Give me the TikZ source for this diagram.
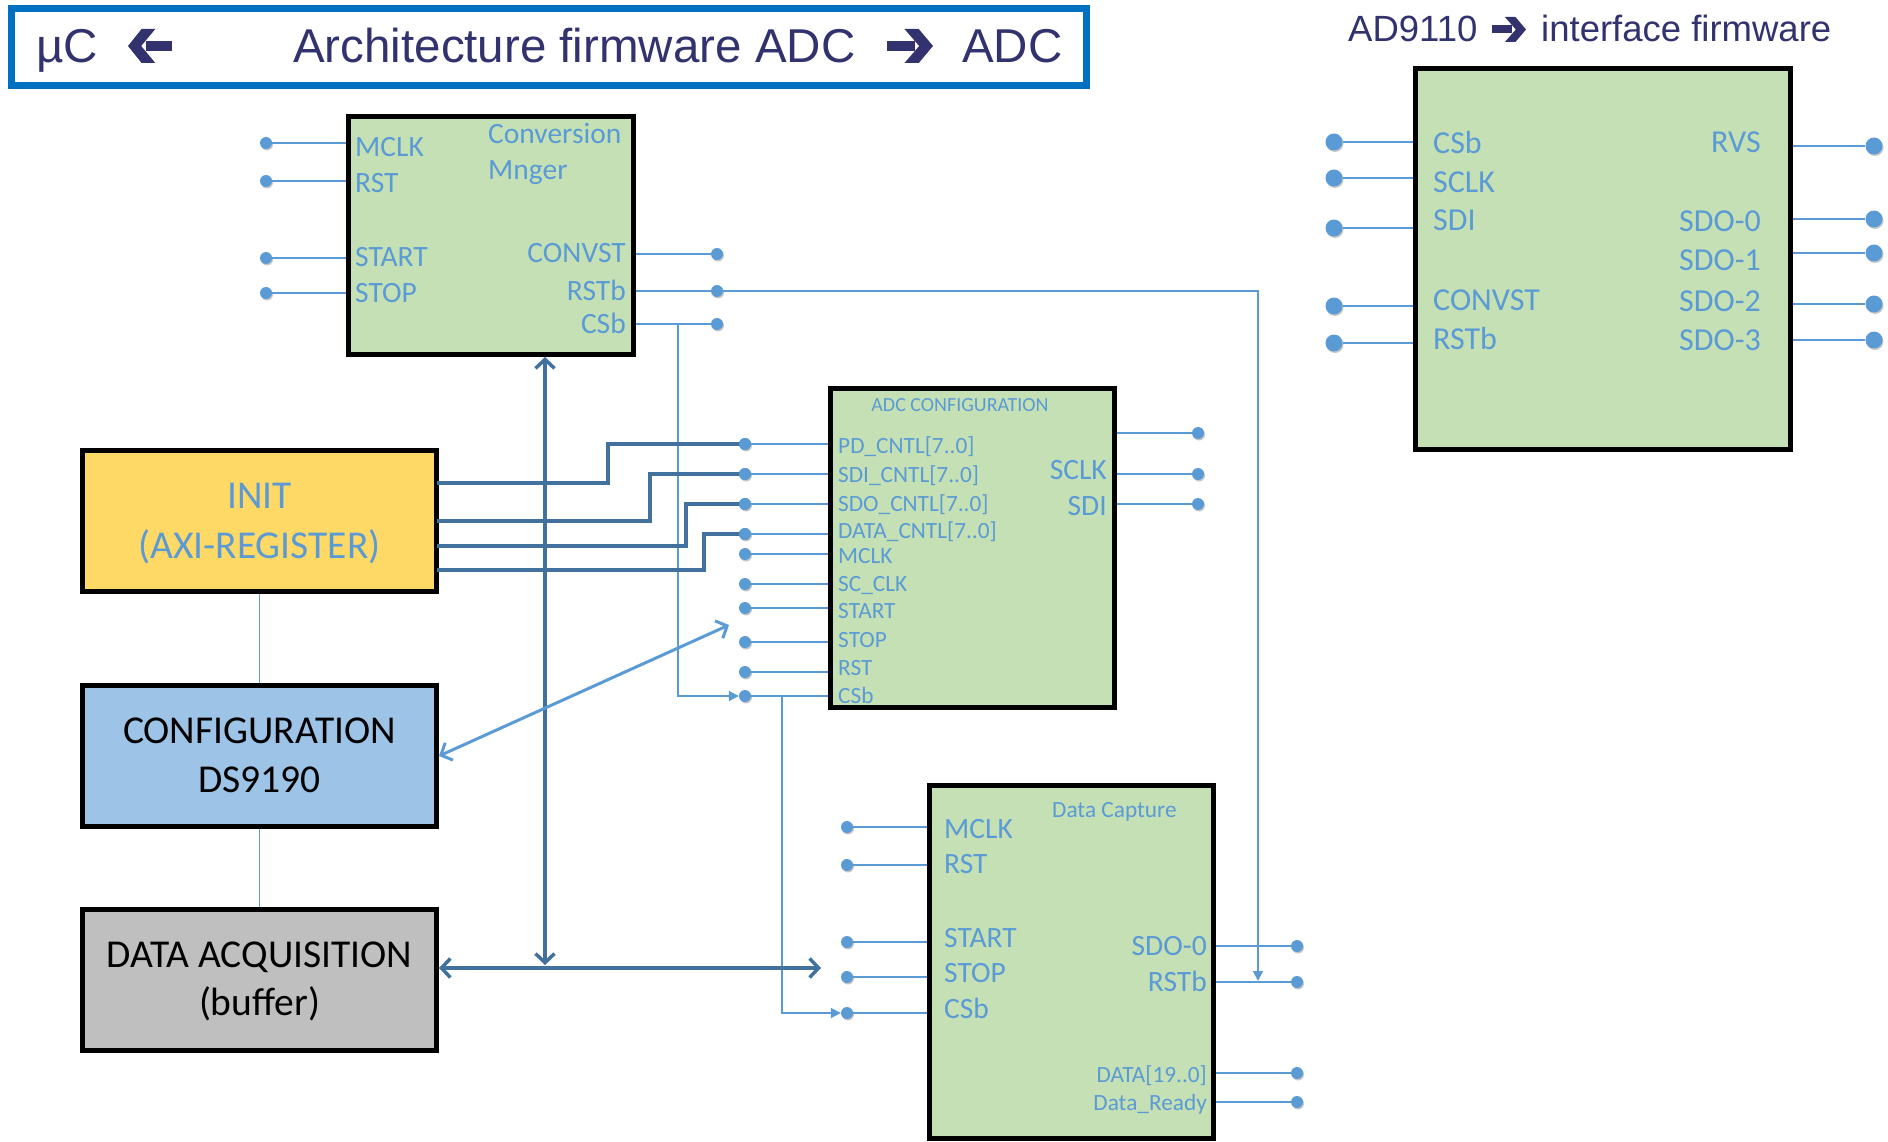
\documentclass[tikz,border=0pt]{standalone}
\usepackage{fontspec}
\setmainfont{Carlito}
\newfontfamily\headfont{Liberation Sans}
\usetikzlibrary{arrows.meta,shadows}

\definecolor{pinblue}{HTML}{5B9BD5}
\definecolor{steel}{HTML}{41719C}
\definecolor{modgreen}{HTML}{C5E0B4}
\definecolor{initgold}{HTML}{FFD966}
\definecolor{cfgblue}{HTML}{9DC3E6}
\definecolor{acqgray}{HTML}{BFBFBF}
\definecolor{frameblue}{HTML}{0070C0}
\definecolor{navy}{HTML}{32326E}

\newcommand\fpin{\fontsize{29.5}{35}\selectfont}
\newcommand\fsmall{\fontsize{23.3}{28}\selectfont}
\newcommand\fcfg{\fontsize{20}{24}\selectfont}
\newcommand\fad{\fontsize{32}{38}\selectfont}
\newcommand\fblock{\fontsize{39.5}{48}\selectfont}
\newcommand\fhead{\headfont\fontsize{47.5}{56}\selectfont}
\newcommand\fsub{\headfont\fontsize{36.5}{44}\selectfont}

% pin dot + stub to the left / right edge of a block
\newcommand\pinW[4]{\node[#4] (#1) at (#3) {};\draw[pinline] (#1) -- (#1 -| #2.west);}
\newcommand\pinE[4]{\node[#4] (#1) at (#3) {};\draw[pinline] (#1) -- (#1 -| #2.east);}

\begin{document}
\begin{tikzpicture}[x=1pt,y=-1pt,
  module/.style={draw=black, line width=5pt, fill=#1, rectangle, inner sep=0pt},
  module/.default=modgreen,
  pinline/.style={draw=pinblue, line width=1.8pt},
  pindot/.style={circle, fill=pinblue, inner sep=0pt, minimum size=12pt,
    drop shadow={shadow xshift=1pt, shadow yshift=-1.5pt, opacity=0.22, fill=black}},
  bigdot/.style={pindot, minimum size=17pt},
  lab/.style={text=pinblue, inner sep=0pt},
  blocktext/.style={inner sep=0pt, font=\fblock},
  bus/.style={draw=steel, line width=3.5pt},
  busarrows/.style={bus, {Straight Barb[length=9pt,width=19pt,line width=3.5pt]}-{Straight Barb[length=9pt,width=19pt,line width=3.5pt]}},
  feed/.style={pinline, -{Triangle[length=10pt,width=10pt]}},
  fatarrow/.pic={
    \fill[navy] (0,-0.16) rectangle (0.6,0.16);
    \fill[navy] (0.38,-0.5) -- (0.69,-0.5) -- (1,0) -- (0.69,0.5) -- (0.38,0.5) -- (0.70,0) -- cycle;
  }]
\useasboundingbox (0,0) rectangle (1888,1142);

% ---------- headings ----------
\node[draw=frameblue, line width=7pt, rectangle, inner sep=0pt,
      minimum width=1075pt, minimum height=77pt] (frame) at (549,47) {};
\node[text=navy, font=\fhead, anchor=base west, inner sep=0pt] (hmu) at (36,63) {µC};
\pic[xscale=-44, yscale=34] at (172,46) {fatarrow};
\node[text=navy, font=\fhead, anchor=base west, inner sep=0pt] (harch) at (293,63) {Architecture firmware ADC};
\pic[xscale=46, yscale=34] at (887,46) {fatarrow};
\node[text=navy, font=\fhead, anchor=base west, inner sep=0pt] (hadc) at (962,63) {ADC};

\node[text=navy, font=\fsub, anchor=base west, inner sep=0pt] (hdev) at (1348,42) {AD9110};
\pic[xscale=34, yscale=25] at (1492,29.5) {fatarrow};
\node[text=navy, font=\fsub, anchor=base west, inner sep=0pt] (hif) at (1541,42) {interface firmware};

% ---------- blocks ----------
\node[module, minimum width=285pt, minimum height=238pt] (cm)  at (491,235.5) {};
\node[module, minimum width=284pt, minimum height=319pt] (adc) at (972.5,548) {};
\node[module, minimum width=284pt, minimum height=353pt] (cap) at (1071.5,962) {};
\node[module, minimum width=375pt, minimum height=381pt] (ad)  at (1603,259) {};
\node[module=initgold, minimum width=354pt, minimum height=141pt] (init) at (259.5,521) {};
\node[module=cfgblue,  minimum width=354pt, minimum height=141pt] (cfg)  at (259.5,756) {};
\node[module=acqgray,  minimum width=354pt, minimum height=141pt] (acq)  at (259.5,980) {};

\node[blocktext, text=pinblue, anchor=base] (init1) at (259.5,508) {INIT};
\node[blocktext, text=pinblue, anchor=base] (init2) at (259.5,558) {(AXI-REGISTER)};
\node[blocktext, anchor=base] (cfg1) at (259.5,743) {CONFIGURATION};
\node[blocktext, anchor=base] (cfg2) at (259.5,792) {DS9190};
\node[blocktext, anchor=base] (acq1) at (259.5,967) {DATA ACQUISITION};
\node[blocktext, anchor=base] (acq2) at (259.5,1015) {(buffer)};

% links between the left-hand blocks
\draw[pinline, line width=1.4pt] (init) -- (cfg);
\draw[pinline, line width=1.4pt] (cfg) -- (acq);

% ---------- anchor points of the buses ----------
\coordinate (i1) at (436.5,483);
\coordinate (i2) at (436.5,521);
\coordinate (i3) at (436.5,546);
\coordinate (i4) at (436.5,570);
\coordinate (busx) at (545,0);
\coordinate (busjoin) at (545,965);
\coordinate (busend) at (821,968);

% ---------- Conversion Mnger ----------
\pinW{cm-l1}{cm}{266,143}{pindot}
\pinW{cm-l2}{cm}{266,181}{pindot}
\pinW{cm-l3}{cm}{266,258}{pindot}
\pinW{cm-l4}{cm}{266,293}{pindot}
\pinE{cm-r1}{cm}{717,254}{pindot}
\pinE{cm-r2}{cm}{717,291}{pindot}
\pinE{cm-r3}{cm}{717,324}{pindot}
\node[lab, font=\fpin, anchor=base west] (cm-t1) at (488,144) {Conversion};
\node[lab, font=\fpin, anchor=base west] (cm-t2) at (488,180) {Mnger};
\node[lab, font=\fpin, anchor=base west] (cm-a) at (355,157) {MCLK};
\node[lab, font=\fpin, anchor=base west] (cm-b) at (355,193) {RST};
\node[lab, font=\fpin, anchor=base west] (cm-c) at (355,266) {START};
\node[lab, font=\fpin, anchor=base west] (cm-d) at (355,302) {STOP};
\node[lab, font=\fpin, anchor=base east] (cm-e) at (626,262) {CONVST};
\node[lab, font=\fpin, anchor=base east] (cm-f) at (626,300) {RSTb};
\node[lab, font=\fpin, anchor=base east] (cm-g) at (626,333) {CSb};

% ---------- ADC CONFIGURATION ----------
\node[lab, font=\fcfg, anchor=base] (adc-t) at (960,411) {ADC CONFIGURATION};
\pinW{adc-l1}{adc}{745,444}{pindot}
\pinW{adc-l2}{adc}{745,474}{pindot}
\pinW{adc-l3}{adc}{745,504}{pindot}
\pinW{adc-l4}{adc}{745,534}{pindot}
\pinW{adc-l5}{adc}{745,554}{pindot}
\pinW{adc-l6}{adc}{745,584}{pindot}
\pinW{adc-l7}{adc}{745,608}{pindot}
\pinW{adc-l8}{adc}{745,642}{pindot}
\pinW{adc-l9}{adc}{745,672}{pindot}
\pinW{adc-l10}{adc}{745,696}{pindot}
\pinE{adc-r1}{adc}{1198,433}{pindot}
\pinE{adc-r2}{adc}{1198,474}{pindot}
\pinE{adc-r3}{adc}{1198,504}{pindot}
\node[lab, font=\fsmall, anchor=base west] (adc-a) at (838,453) {PD\_CNTL[7..0]};
\node[lab, font=\fsmall, anchor=base west] (adc-b) at (838,482) {SDI\_CNTL[7..0]};
\node[lab, font=\fsmall, anchor=base west] (adc-c) at (838,511) {SDO\_CNTL[7..0]};
\node[lab, font=\fsmall, anchor=base west] (adc-d) at (838,538) {DATA\_CNTL[7..0]};
\node[lab, font=\fsmall, anchor=base west] (adc-e) at (838,563) {MCLK};
\node[lab, font=\fsmall, anchor=base west] (adc-f) at (838,591) {SC\_CLK};
\node[lab, font=\fsmall, anchor=base west] (adc-g) at (838,618) {START};
\node[lab, font=\fsmall, anchor=base west] (adc-h) at (838,647) {STOP};
\node[lab, font=\fsmall, anchor=base west] (adc-i) at (838,675) {RST};
\node[lab, font=\fsmall, anchor=base west] (adc-j) at (838,703) {CSb};
\node[lab, font=\fpin, anchor=base east] (adc-k) at (1107,479) {SCLK};
\node[lab, font=\fpin, anchor=base east] (adc-m) at (1107,515) {SDI};

% ---------- Data Capture ----------
\node[lab, font=\fsmall, anchor=base west] (cap-t) at (1052,817) {Data Capture};
\pinW{cap-l1}{cap}{847,827}{pindot}
\pinW{cap-l2}{cap}{847,865}{pindot}
\pinW{cap-l3}{cap}{847,942}{pindot}
\pinW{cap-l4}{cap}{847,977}{pindot}
\pinW{cap-l5}{cap}{847,1013}{pindot}
\pinE{cap-r1}{cap}{1297,946}{pindot}
\pinE{cap-r2}{cap}{1297,982}{pindot}
\pinE{cap-r3}{cap}{1297,1073}{pindot}
\pinE{cap-r4}{cap}{1297,1102}{pindot}
\node[lab, font=\fpin, anchor=base west] (cap-a) at (944,838) {MCLK};
\node[lab, font=\fpin, anchor=base west] (cap-b) at (944,873) {RST};
\node[lab, font=\fpin, anchor=base west] (cap-c) at (944,947) {START};
\node[lab, font=\fpin, anchor=base west] (cap-d) at (944,982) {STOP};
\node[lab, font=\fpin, anchor=base west] (cap-e) at (944,1018) {CSb};
\node[lab, font=\fpin, anchor=base east] (cap-f) at (1207,955) {SDO-0};
\node[lab, font=\fpin, anchor=base east] (cap-g) at (1207,991) {RSTb};
\node[lab, font=\fsmall, anchor=base east] (cap-h) at (1207,1082) {DATA[19..0]};
\node[lab, font=\fsmall, anchor=base east] (cap-i) at (1207,1110) {Data\_Ready};

% ---------- AD9110 ----------
\pinW{ad-l1}{ad}{1334,142}{bigdot}
\pinW{ad-l2}{ad}{1334,178}{bigdot}
\pinW{ad-l3}{ad}{1334,228}{bigdot}
\pinW{ad-l4}{ad}{1334,306}{bigdot}
\pinW{ad-l5}{ad}{1334,343}{bigdot}
\pinE{ad-r1}{ad}{1874,146}{bigdot}
\pinE{ad-r2}{ad}{1874,219}{bigdot}
\pinE{ad-r3}{ad}{1874,253}{bigdot}
\pinE{ad-r4}{ad}{1874,304}{bigdot}
\pinE{ad-r5}{ad}{1874,340}{bigdot}
\node[lab, font=\fad, anchor=base west] (ad-a) at (1433,154) {CSb};
\node[lab, font=\fad, anchor=base west] (ad-b) at (1433,193) {SCLK};
\node[lab, font=\fad, anchor=base west] (ad-c) at (1433,231) {SDI};
\node[lab, font=\fad, anchor=base west] (ad-d) at (1433,310) {CONVST};
\node[lab, font=\fad, anchor=base west] (ad-e) at (1433,349) {RSTb};
\node[lab, font=\fad, anchor=base east] (ad-f) at (1761,153) {RVS};
\node[lab, font=\fad, anchor=base east] (ad-g) at (1761,232) {SDO-0};
\node[lab, font=\fad, anchor=base east] (ad-h) at (1761,270) {SDO-1};
\node[lab, font=\fad, anchor=base east] (ad-i) at (1761,311) {SDO-2};
\node[lab, font=\fad, anchor=base east] (ad-j) at (1761,350) {SDO-3};

% ---------- signal routing ----------
\coordinate (csbtap) at (678,324);
\coordinate (rstdrop) at (1258,981);
\coordinate (adccsbtap) at (782,696);
\draw[feed] (csbtap) |- (adc-l10);
\draw[feed] (cm-r2) -| (rstdrop);
\draw[feed] (adccsbtap) |- (cap-l5);

% steel buses from INIT to the ADC control registers
\draw[bus] (i1) -| (608,444) -- (adc-l1.center);
\draw[bus] (i2) -| (650,474) -- (adc-l2.center);
\draw[bus] (i3) -| (686,504) -- (adc-l3.center);
\draw[bus] (i4) -| (704,534) -- (adc-l4.center);
\foreach \d in {adc-l1,adc-l2,adc-l3,adc-l4}
  \fill[pinblue] (\d) circle (6pt);

% data buses of the conversion manager and acquisition buffer
\draw[busarrows] (cm.south -| busx) -- (busjoin);
\draw[busarrows] (busend -| acq.east) -- (busend);

% configuration path
\coordinate (cfgtip) at (729,625);
\draw[draw=pinblue, line width=3pt,
  {Straight Barb[length=9pt,width=19pt,line width=3pt]}-{Straight Barb[length=9pt,width=19pt,line width=3pt]}]
  (cfg.east) -- (cfgtip);
\end{tikzpicture}
\end{document}
